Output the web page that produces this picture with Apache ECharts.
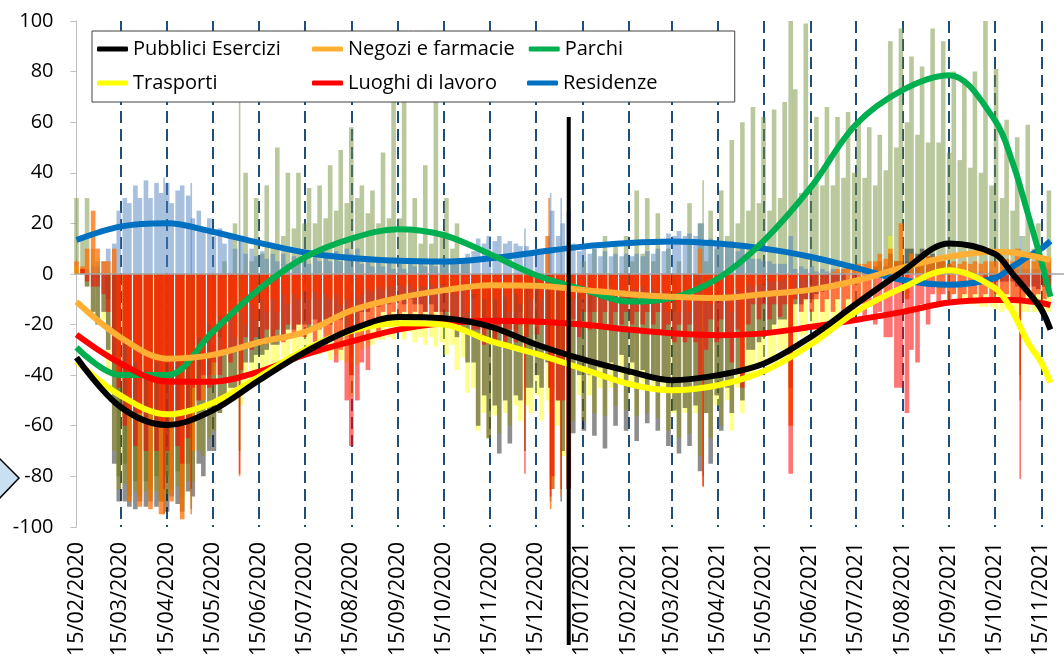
<!DOCTYPE html>
<html>
<head>
<meta charset="utf-8">
<script src="https://cdn.jsdelivr.net/npm/echarts@6/dist/echarts.min.js"></script>
<style>
  html, body { margin: 0; padding: 0; background: #fff; }
  #chart { width: 1064px; height: 659px; }
</style>
</head>
<body>
<div id="chart"></div>
<script>
// valori giornalieri campionati: coppie (sabato, mercoledi) per settimana, dal sab 15/02/2020
const pubbliciEsercizi = [
  0,2, -5,-15, -20,-15, -30,-75, -90,-90, -92,-93, -90,-92, -90,-92, -90,-94, -88,-91,
  -94,-86, -88,-75, -80,-70, -70,-55, -50,-45, -45,-40, -35,-35, -32,-32, -30,-28, -28,-25,
  -22,-22, -20,-20, -22,-18, -20,-18, -20,-18, -18,-22, -40,-20, -15,-15, -12,-13, -12,-12,
  -10,-10, -12,-10, -12,-12, -15,-12, -15,-15, -18,-17, -25,-22, -35,-35, -60,-48, -65,-52,
  -71,-50, -67,-48, -50,-45, -45,-40, -45,-35, -85,-50, -70,-85, -63,-40, -62,-40, -64,-37,
  -69,-35, -60,-32, -62,-35, -66,-38, -59,-40, -62,-42, -68,-54, -71,-53, -68,-52, -78,-55,
  -75,-48, -62,-45, -55,-38, -50,-30, -30,-27, -25,-23, -20,-18, -18,-45, -12,-12, -10,-10,
  -8,-7, -5,-5, -3,-3, 0,-2, 0,0, 2,3, 5,3, 8,5, 5,10, 10,8,
  10,7, 8,5, 5,4, 3,2, 0,1, 0,0, -2,-2, -3,-3, -3,-3, -5,-5,
  -5,-5, -6,-5, -6
];
const negoziFarmacie = [
  5,3, 10,25, 10,5, 5,10, -40,-25, -90,-35, -92,-38, -93,-35, -95,-35, -90,-33,
  -97,-32, -70,-25, -50,-20, -40,-17, -30,-15, -25,-15, -20,-12, -18,-10, -15,-10, -15,-8,
  -12,-8, -10,-7, -10,-7, -10,-8, -10,-8, -12,-10, -40,-10, -8,-6, -7,-5, -6,-5,
  -5,-4, -5,-4, -6,-5, -5,-4, -5,-4, -6,-5, -8,-5, -15,-8, -20,-10, -20,-10,
  -18,-9, -15,-8, -12,-5, -10,-3, -10,15, -85,-5, -20,-70, -10,-8, -10,-8, -8,-7,
  -8,-6, -7,-6, -7,-6, -6,-5, -7,-6, -8,-7, -15,-10, -15,-10, -15,-10, 10,-10,
  -12,-10, -10,-8, -15,-6, -40,-4, -5,-4, -4,-3, -3,-3, -2,-60, -2,-2, -1,-1,
  0,0, 0,1, 2,2, 3,3, 4,4, 5,5, 8,6, 10,5, 20,-10, 8,7,
  8,7, 6,5, 5,4, 5,4, 5,4, 5,4, 5,5, 5,5, 6,5, 10,5,
  6,5, 6,5, 6
];
const parchi = [
  30,15, 30,10, 5,0, -10,-40, -80,-75, -88,-82, -88,-82, -85,-80, -90,-80, -85,-78,
  -88,-75, -55,-50, -40,-40, -15,-25, 5,-10, 20,-5, 40,5, 30,8, 35,12, 50,15,
  40,18, 40,20, 34,20, 35,22, 43,25, 49,28, 58,30, 35,24, 33,20, 48,22,
  70,22, 69,18, 30,12, 43,12, 69,15, 30,10, 20,5, 5,-10, -15,-20, -20,-25,
  -20,-25, -15,-22, -15,-25, -10,-20, -5,-20, -45,-35, -35,-40, -10,-20, 5,-15, 10,-10,
  15,-5, 12,0, 15,5, 33,8, 30,5, 24,0, 10,-15, 5,-10, 28,-5, 20,5,
  25,10, 33,15, 53,20, 60,25, 66,28, 62,25, 65,30, 68,100, 73,32, 99,35,
  62,35, 66,35, 62,38, 64,40, 61,38, 58,35, 55,41, 92,50, 97,60, 86,55,
  82,52, 97,52, 92,48, 80,45, 77,42, 80,40, 100,35, 81,30, 61,25, 54,15,
  59,10, 20,5, 33
];
const trasporti = [
  3,0, -5,-15, -20,-18, -40,-70, -85,-83, -90,-86, -88,-86, -88,-86, -90,-87, -86,-84,
  -92,-82, -82,-70, -72,-65, -62,-55, -52,-50, -50,-52, -45,-42, -42,-39, -40,-37, -38,-35,
  -34,-32, -32,-31, -32,-30, -32,-31, -34,-32, -34,-35, -48,-36, -30,-29, -28,-26, -26,-25,
  -26,-23, -26,-23, -27,-25, -28,-25, -29,-27, -32,-28, -38,-33, -47,-45, -62,-55, -65,-56,
  -63,-55, -60,-52, -58,-52, -55,-48, -58,-50, -82,-60, -72,-82, -58,-48, -58,-48, -55,-45,
  -56,-45, -52,-44, -54,-45, -56,-43, -55,-44, -57,-47, -62,-55, -65,-55, -63,-55, -72,-55,
  -65,-52, -60,-50, -62,-45, -55,-40, -40,-36, -36,-33, -33,-30, -30,-55, -27,-25, -24,-22,
  -22,-20, -20,-18, -17,-15, -14,-13, -12,-12, -8,-10, 5,-8, 15,-3, 10,-8, 8,-2,
  5,-3, -3,-8, -6,-10, -8,-12, -10,-12, -12,-13, -13,-13, -14,-15, -14,-15, -20,-15,
  -15,-15, -15,-15, -15
];
const luoghiLavoro = [
  0,2, -3,-5, -5,-8, -15,-35, -45,-60, -55,-68, -55,-70, -55,-70, -60,-70, -55,-68,
  -75,-65, -45,-50, -40,-45, -35,-40, -30,-35, -30,-38, -25,-30, -25,-28, -22,-27, -22,-27,
  -20,-25, -20,-25, -20,-27, -22,-30, -25,-35, -30,-50, -68,-50, -35,-38, -18,-25, -15,-20,
  -15,-18, -15,-17, -15,-17, -15,-17, -15,-17, -15,-18, -17,-20, -20,-22, -22,-28, -22,-28,
  -22,-27, -22,-27, -20,-25, -18,-24, -20,-30, -80,-50, -50,-85, -18,-25, -15,-22, -15,-20,
  -15,-20, -15,-20, -15,-20, -15,-20, -15,-20, -15,-22, -20,-27, -20,-27, -20,-27, -40,-30,
  -18,-27, -18,-25, -35,-22, -45,-20, -12,-18, -12,-18, -12,-17, -12,-79, -10,-15, -10,-15,
  -10,-15, -10,-15, -10,-15, -10,-15, -12,-17, -13,-20, -15,-25, -25,-45, -45,-55, -30,-35,
  -12,-20, -8,-12, -8,-10, -8,-10, -8,-10, -8,-10, -8,-10, -8,-10, -8,-10, -10,-10,
  -8,-10, -8,-10, -8
];
const residenze = [
  0,0, 2,3, 3,5, 10,12, 25,30, 28,35, 30,37, 30,36, 32,36, 28,33,
  35,31, 22,25, 18,22, 15,18, 12,15, 10,14, 8,10, 7,9, 6,8, 5,8,
  4,7, 4,7, 4,7, 5,8, 5,9, 5,10, 8,10, 4,7, 3,5, 3,5,
  2,4, 2,4, 3,4, 3,4, 3,5, 4,5, 5,6, 8,9, 14,12, 15,13,
  15,12, 13,12, 11,11, 9,10, 9,10, 25,15, 20,25, 12,9, 11,8, 10,7,
  9,7, 8,7, 8,7, 8,7, 9,8, 10,9, 16,15, 17,15, 16,15, 20,12,
  14,12, 12,11, 13,9, 12,7, 6,6, 5,5, 4,4, 4,15, 2,3, 2,3,
  1,2, 1,2, 1,2, 0,2, 0,2, 0,2, 0,2, 0,4, 2,5, 0,3,
  0,2, 0,1, 0,0, 0,0, 0,0, 0,1, 0,1, 0,1, 1,2, 2,2,
  2,2, 2,2, 2
];

// giorni festivi letti a parte
const festivi = ['13/04/2020', '01/05/2020', '02/06/2020', '08/12/2020', '24/12/2020', '25/12/2020', '01/01/2021', '05/04/2021', '01/11/2021'];
const festiviPubblici = [-95, -93, -70, -70, -45, -90, -90, -80, -40];
const festiviNegozi = [-95, -95, -80, -50, 30, -93, -88, -84, -50];
const festiviParchi = [-90, -85, 75, -20, -20, -30, -30, 37, 10];
const festiviTrasporti = [-92, -90, -70, -70, -55, -88, -85, -75, -45];
const festiviLavoro = [-85, -85, -79, -79, -45, -88, -85, -84, -81];
const festiviResidenze = [38, 36, 15, 18, 15, 32, 30, 20, 15];

// linee di tendenza
const dateTendenza = ['15/02/2020', '15/03/2020', '15/04/2020', '15/05/2020', '15/06/2020', '15/07/2020',
  '15/08/2020', '15/09/2020', '15/10/2020', '15/11/2020', '15/12/2020', '15/01/2021', '15/02/2021',
  '15/03/2021', '15/04/2021', '15/05/2021', '15/06/2021', '15/07/2021', '15/08/2021', '15/09/2021',
  '15/10/2021', '27/10/2021', '06/11/2021', '15/11/2021', '21/11/2021'];
const tendPubblici = [-33, -52.5, -59.7, -54, -42, -31, -22, -17, -17.5, -20.8, -27.8, -33.7, -38.5, -42, -40, -35.5, -25, -12, 1, 12, 8, 0, -7, -14, -22];
const tendNegozi = [-11, -25, -33.5, -32, -27, -23, -14.5, -9.5, -6.5, -4.5, -4.7, -6.3, -8, -9, -9.5, -8, -6.3, -2.7, 2.5, 6.8, 8.8, 8.5, 7.5, 6.3, 5.5];
const tendParchi = [-29, -40, -40, -23, -6, 6.5, 14, 17.7, 15.4, 7.8, -0.4, -6, -10.9, -9.5, -1.7, 13, 34, 59, 72.7, 78.6, 61, 44, 24, 5, -9];
const tendTrasporti = [-34.5, -48, -55.5, -51, -40.6, -30, -22.5, -19.5, -20, -26.5, -31.5, -37.5, -43.5, -46, -44, -38.5, -28, -15, -5.5, 1.5, -5.5, -15, -27, -35, -43];
const tendLavoro = [-24, -35.3, -42.5, -42.6, -38.6, -32, -26.7, -22, -19.5, -18.5, -18.8, -20, -22, -23.4, -24.2, -23.5, -21, -18.2, -15, -11.3, -10.3, -10.3, -10.8, -11.5, -12.3];
const tendResidenze = [13.4, 18.7, 20, 16.7, 12.3, 8.5, 6.3, 5.2, 4.9, 6.2, 8.5, 10.8, 12.2, 12.8, 12, 10, 6.8, 2.4, -2.4, -4.3, -1.7, 2.9, 6.8, 10, 13];

// asse x: un giorno per categoria
const giorni = [];
for (let t = Date.UTC(2020, 1, 15); t <= Date.UTC(2021, 10, 30); t += 864e5) {
  const d = new Date(t);
  giorni.push(String(d.getUTCDate()).padStart(2, '0') + '/' +
    String(d.getUTCMonth() + 1).padStart(2, '0') + '/' + d.getUTCFullYear());
}

const font = "'Open Sans', sans-serif";

// barre su assi numerici nascosti (giorno n. dal 15/02/2020), cosi la larghezza non viene ridotta
function barre(nome, valori, colore) {
  return {
    name: nome, type: 'bar', xAxisIndex: 1, barWidth: 4.6, barGap: '-100%',
    itemStyle: { color: colore },
    data: valori.map((v, i) => [7 * Math.floor(i / 2) + (i % 2) * 4, v])
  };
}
function barreFestivi(nome, valori, colore) {
  return {
    name: nome, type: 'bar', xAxisIndex: 2, barWidth: 1.6, barGap: '-100%',
    itemStyle: { color: colore },
    data: valori.map((v, i) => [giorni.indexOf(festivi[i]), v])
  };
}

function tendenza(nome, valori, colore) {
  return {
    name: nome, type: 'line', smooth: 0.35, showSymbol: false, z: 5,
    itemStyle: { color: colore },
    lineStyle: { color: colore, width: 6 },
    data: valori.map((v, i) => [dateTendenza[i], v])
  };
}

const colParchi = 'rgba(118,146,60,0.5)';
const colResidenze = 'rgba(79,129,189,0.5)';
const colTrasporti = 'rgba(255,255,0,0.45)';
const colPubblici = 'rgba(30,30,30,0.5)';
const colNegozi = 'rgba(255,110,0,0.75)';
const colLavoro = 'rgba(255,0,0,0.55)';

const chart = echarts.init(document.getElementById('chart'));
const lavoroBarre = barre('Lavoro giornaliero', luoghiLavoro, colLavoro);
lavoroBarre.markLine = {
  silent: true, symbol: ['none', 'none'], label: { show: false },
  lineStyle: { color: '#A6A6A6', width: 1.5, type: 'solid' },
  data: [{ yAxis: 0 }]
};

const asseNascosto = { type: 'value', min: 0, max: giorni.length - 1, show: false, splitLine: { show: false } };

chart.setOption({
  animation: false,
  textStyle: { fontFamily: font },
  grid: { left: 76.5, top: 21, width: 1003, height: 506 },
  legend: {
    data: ['Pubblici Esercizi', 'Negozi e farmacie', 'Parchi', 'Trasporti', 'Luoghi di lavoro', 'Residenze'],
    left: 92, top: 31, width: 640,
    padding: [8, 5, 9, 5], itemGap: 14,
    itemWidth: 31, itemHeight: 5, icon: 'roundRect',
    backgroundColor: '#fff', borderColor: '#404040', borderWidth: 1,
    selectedMode: false,
    textStyle: { fontFamily: font, fontSize: 20, color: '#000', width: 165, lineHeight: 18 }
  },
  xAxis: [{
    type: 'category', data: giorni, boundaryGap: false,
    axisLine: { show: false },
    axisTick: { show: false },
    axisLabel: {
      rotate: 90, margin: 15, fontSize: 21.5, color: '#000', fontFamily: font,
      interval: (i, v) => v.startsWith('15/')
    },
    splitLine: {
      show: true,
      interval: (i, v) => i > 0 && v.startsWith('15/'),
      lineStyle: { color: '#1F4E79', width: 2, type: [12, 6] }
    }
  }, asseNascosto, asseNascosto],
  yAxis: {
    type: 'value', min: -100, max: 100, interval: 20,
    axisLine: { show: true, onZero: false, lineStyle: { color: '#BFBFBF', width: 1 } },
    axisTick: { show: true, length: 6, lineStyle: { color: '#BFBFBF' } },
    axisLabel: { fontSize: 20, color: '#000', margin: 23, fontFamily: font },
    splitLine: { show: false }
  },
  graphic: [{
    id: 'freccia', type: 'polygon',
    shape: { points: [[-2, 457], [19, 478], [-2, 500]] },
    style: { fill: '#C9DFF2', stroke: '#000', lineWidth: 1.5 }
  }],
  series: [
    barre('Parchi giornaliero', parchi, colParchi),
    barre('Residenze giornaliero', residenze, colResidenze),
    barre('Trasporti giornaliero', trasporti, colTrasporti),
    barre('Pubblici giornaliero', pubbliciEsercizi, colPubblici),
    barre('Negozi giornaliero', negoziFarmacie, colNegozi),
    lavoroBarre,
    barreFestivi('Parchi festivi', festiviParchi, colParchi),
    barreFestivi('Residenze festivi', festiviResidenze, colResidenze),
    barreFestivi('Trasporti festivi', festiviTrasporti, colTrasporti),
    barreFestivi('Pubblici festivi', festiviPubblici, colPubblici),
    barreFestivi('Negozi festivi', festiviNegozi, colNegozi),
    barreFestivi('Lavoro festivi', festiviLavoro, colLavoro),
    tendenza('Residenze', tendResidenze, '#0070C0'),
    tendenza('Parchi', tendParchi, '#00B050'),
    tendenza('Negozi e farmacie', tendNegozi, '#FFB034'),
    tendenza('Luoghi di lavoro', tendLavoro, '#FF0000'),
    tendenza('Trasporti', tendTrasporti, '#FFFF00'),
    tendenza('Pubblici Esercizi', tendPubblici, '#000000')
  ]
});

// linea verticale nera al 06/01/2021
const xLinea = chart.convertToPixel({ xAxisIndex: 0 }, giorni.indexOf('06/01/2021'));
const yCima = chart.convertToPixel({ yAxisIndex: 0 }, 62);
chart.setOption({
  graphic: [{
    id: 'linea', type: 'line', z: 10,
    shape: { x1: xLinea, y1: yCima, x2: xLinea, y2: 645 },
    style: { stroke: '#000', lineWidth: 4 }
  }]
});
</script>
</body>
</html>
